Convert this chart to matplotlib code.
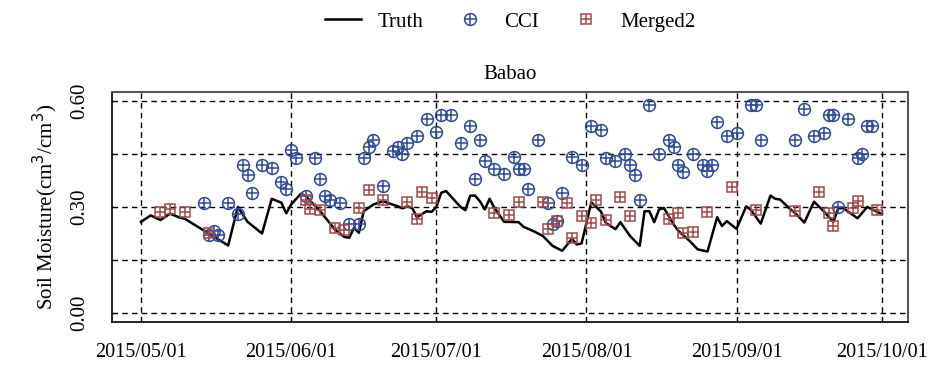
import numpy as np
import matplotlib
matplotlib.use("Agg")
from matplotlib import pyplot as plt
import matplotlib.dates as mdates
from datetime import datetime

# site and start of the record; all series are day offsets from start
site = "Babao"
start = np.datetime64("2015-05-01")

# in-situ soil moisture (cm3/cm3)
truth_day = [0, 2, 4, 6, 8, 9, 18, 20, 22, 25, 27, 29, 30, 31, 33, 34, 37, 40, 42, 43,
             44, 45, 46, 48, 50, 53, 54, 55, 56, 57, 59, 60, 61, 62, 63, 66, 67, 68, 69, 70,
             71, 72, 73, 75, 78, 79, 81, 83, 85, 87, 89, 90, 91, 93, 95, 96, 98, 99, 101, 103,
             104, 105, 106, 107, 108, 110, 111, 113, 115, 117, 119, 120, 121, 123, 125, 126, 128, 130, 131, 132,
             134, 135, 137, 139, 141, 143, 144, 145, 148, 150, 153]
truth_val = [0.258, 0.276, 0.263, 0.281, 0.270, 0.267, 0.191, 0.300, 0.258, 0.225, 0.323, 0.312, 0.282, 0.307, 0.337, 0.331, 0.288, 0.237, 0.215, 0.213,
             0.241, 0.227, 0.288, 0.307, 0.316, 0.302, 0.296, 0.302, 0.297, 0.271, 0.288, 0.286, 0.300, 0.340, 0.345, 0.300, 0.291, 0.332, 0.332, 0.316,
             0.293, 0.323, 0.297, 0.258, 0.257, 0.244, 0.232, 0.218, 0.190, 0.176, 0.210, 0.194, 0.197, 0.313, 0.287, 0.255, 0.237, 0.257, 0.218, 0.190,
             0.288, 0.288, 0.257, 0.293, 0.297, 0.251, 0.232, 0.208, 0.180, 0.174, 0.271, 0.246, 0.260, 0.238, 0.302, 0.291, 0.253, 0.332, 0.323, 0.321,
             0.295, 0.284, 0.256, 0.315, 0.288, 0.258, 0.296, 0.297, 0.268, 0.300, 0.280]

# CCI retrievals
cci_day = [13, 14, 15, 16, 18, 20, 21, 22, 23, 25, 27, 29, 30, 31, 32, 34, 36, 37, 38, 39,
           41, 43, 45, 46, 47, 48, 50, 52, 53, 54, 55, 57, 59, 61, 62, 64, 66, 68, 69, 70,
           71, 73, 75, 77, 78, 79, 80, 82, 84, 85, 86, 87, 89, 91, 93, 95, 96, 98, 100, 101,
           102, 103, 105, 107, 109, 110, 111, 112, 114, 116, 117, 118, 119, 121, 123, 126, 127, 128, 135, 137,
           139, 141, 142, 143, 144, 146, 148, 149, 150, 151]
cci_val = [0.310, 0.220, 0.232, 0.221, 0.310, 0.279, 0.420, 0.390, 0.340, 0.420, 0.409, 0.370, 0.351, 0.460, 0.439, 0.330, 0.439, 0.379, 0.330, 0.319,
           0.310, 0.251, 0.251, 0.439, 0.469, 0.490, 0.359, 0.459, 0.470, 0.450, 0.481, 0.500, 0.548, 0.511, 0.560, 0.559, 0.481, 0.530, 0.380, 0.488,
           0.431, 0.408, 0.392, 0.440, 0.408, 0.408, 0.351, 0.488, 0.310, 0.251, 0.260, 0.340, 0.440, 0.420, 0.530, 0.518, 0.439, 0.431, 0.451, 0.420,
           0.390, 0.321, 0.589, 0.451, 0.488, 0.469, 0.420, 0.399, 0.451, 0.420, 0.401, 0.420, 0.539, 0.500, 0.509, 0.589, 0.589, 0.488, 0.488, 0.577,
           0.500, 0.509, 0.559, 0.559, 0.300, 0.548, 0.439, 0.450, 0.530, 0.530]

# merged product
mrg_day = [4, 6, 9, 14, 34, 35, 37, 40, 42, 45, 47, 50, 55, 57, 58, 60, 73, 76, 78, 83,
           84, 86, 88, 89, 91, 93, 94, 96, 99, 101, 109, 111, 112, 114, 117, 122, 127, 135, 140, 142,
           143, 147, 148, 152]
mrg_val = [0.285, 0.293, 0.285, 0.227, 0.321, 0.295, 0.291, 0.241, 0.235, 0.298, 0.349, 0.319, 0.314, 0.265, 0.342, 0.326, 0.282, 0.276, 0.314, 0.314,
           0.237, 0.260, 0.312, 0.213, 0.274, 0.254, 0.321, 0.262, 0.329, 0.274, 0.265, 0.284, 0.227, 0.230, 0.285, 0.356, 0.291, 0.288, 0.343, 0.282,
           0.246, 0.298, 0.318, 0.291]

month_ticks = ["2015-05-01", "2015-06-01", "2015-07-01", "2015-08-01", "2015-09-01", "2015-10-01"]
y_ticks = [0.0, 0.15, 0.30, 0.45, 0.60]
y_labels = ["0.00", "", "0.30", "", "0.60"]

blue = "#2f4a98"
red = "#a04a4a"

plt.rcParams["font.family"] = ["Liberation Serif", "DejaVu Serif"]

fig = plt.figure(figsize=(9.33, 3.65), dpi=100)
ax = fig.add_axes([0.120, 0.118, 0.853, 0.630])

t_truth = start + np.array(truth_day).astype("timedelta64[D]")
t_cci = start + np.array(cci_day).astype("timedelta64[D]")
t_mrg = start + np.array(mrg_day).astype("timedelta64[D]")

ln, = ax.plot(t_truth, truth_val, color="black", lw=1.8, zorder=3)
c1, = ax.plot(t_cci, cci_val, ls="none", marker="o", ms=8.5, mfc="none", mec=blue, mew=1.1, zorder=4)
c2, = ax.plot(t_cci, cci_val, ls="none", marker="+", ms=8.5, mec=blue, mew=1.1, zorder=4)
s1, = ax.plot(t_mrg, mrg_val, ls="none", marker="s", ms=7, mfc="none", mec=red, mew=1.1, zorder=4)
s2, = ax.plot(t_mrg, mrg_val, ls="none", marker="+", ms=7, mec=red, mew=1.1, zorder=4)

ax.set_xlim(datetime(2015, 4, 25), datetime(2015, 10, 6, 9))
ax.set_ylim(-0.025, 0.625)

ax.set_xticks([np.datetime64(m) for m in month_ticks])
ax.xaxis.set_major_formatter(mdates.DateFormatter("%Y/%m/%d"))
ax.set_yticks(y_ticks)
ax.set_yticklabels(y_labels, rotation=90, va="center")
ax.tick_params(axis="x", direction="in", length=3, pad=15, labelsize=14.5)
ax.tick_params(axis="y", direction="in", length=3, pad=16, labelsize=15)

ax.grid(True, color="black", lw=1.0, ls=(0, (4, 3)))
ax.set_axisbelow(True)

for side in ["left", "bottom"]:
    ax.spines[side].set_color("black")
    ax.spines[side].set_linewidth(1.2)
for side in ["top", "right"]:
    ax.spines[side].set_color("#555555")
    ax.spines[side].set_linewidth(1.5)

ax.set_title(site, fontsize=15, pad=9)
ax.set_ylabel("Soil Moisture(cm$^3$/cm$^3$)", fontsize=15, labelpad=8)

fig.legend([ln, (c1, c2), (s1, s2)], ["Truth", "CCI", "Merged2"],
           loc="center", bbox_to_anchor=(0.547, 0.94), ncol=3, frameon=False,
           fontsize=15, handlelength=1.7, columnspacing=1.4, handletextpad=0.8)

fig.savefig("out.png", dpi=100)
